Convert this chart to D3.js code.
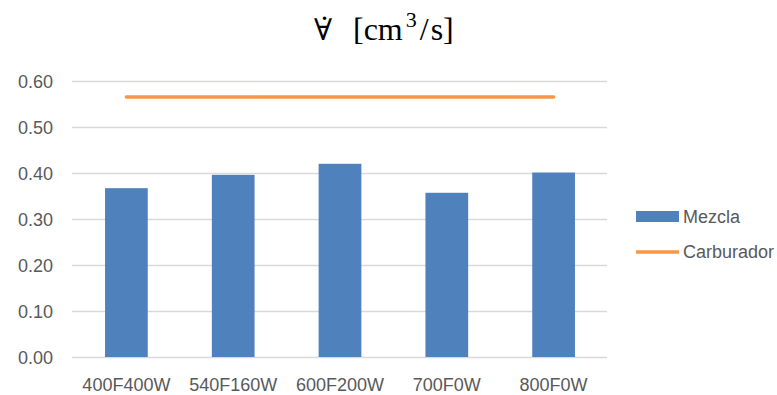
<!DOCTYPE html>
<html>
<head>
<meta charset="utf-8">
<script src="https://cdn.jsdelivr.net/npm/d3@7"></script>
<style>
  html, body { margin: 0; padding: 0; background: #fff; }
  svg { display: block; }
</style>
</head>
<body>
<svg id="chart" width="777" height="395"></svg>
<script>
// Flow rate per operating condition
const categories = ["400F400W", "540F160W", "600F200W", "700F0W", "800F0W"];
const mezclaValues = [0.367, 0.396, 0.420, 0.357, 0.401];
const carburadorValues = [0.565, 0.565, 0.565, 0.565, 0.565];
const yTicks = [0, 0.1, 0.2, 0.3, 0.4, 0.5, 0.6];
const seriesNames = ["Mezcla", "Carburador"];

const svg = d3.select("#chart");
const labelFont = "'Liberation Sans', Arial, sans-serif";
const labelColor = "#595959";

const x = d3.scaleBand().domain(categories).range([73, 607])
  .paddingInner(0.6).paddingOuter(0.3);
const y = d3.scaleLinear().domain([0, 0.6]).range([357, 81]);

// Title: volumetric flow symbol (∀ with a combining dot above) followed by the unit
const title = svg.append("text")
  .attr("fill", "#000")
  .attr("font-family", "'Liberation Serif', 'Times New Roman', serif")
  .attr("font-size", 32);
title.append("tspan")
  .attr("x", 314).attr("y", 40)
  .attr("font-family", "'DejaVu Serif', serif").attr("font-size", 30)
  .text("\u2200\u0307");
title.append("tspan").attr("x", 353).attr("y", 40).text("[cm");
title.append("tspan").attr("font-size", 22).attr("dx", 3).attr("dy", -13).text("3");
title.append("tspan").attr("dx", 3).attr("dy", 13).text("/");
title.append("tspan").attr("dx", 2).text("s]");

// Gridlines and value labels
const yAxis = d3.axisLeft(y).tickValues(yTicks)
  .tickFormat(d3.format(".2f"))
  .tickSize(-(607 - 72)).tickPadding(19);
const gy = svg.append("g").attr("transform", "translate(72,0)").call(yAxis);
gy.select(".domain").remove();
gy.selectAll(".tick line").attr("stroke", "#d9d9d9").attr("stroke-width", 1.3);
gy.selectAll(".tick text")
  .attr("font-family", labelFont).attr("font-size", 18)
  .attr("fill", labelColor).attr("dy", "0.36em");

// Bars
svg.append("g").selectAll("rect")
  .data(categories.map((c, i) => ({ c, v: mezclaValues[i] })))
  .join("rect")
  .attr("x", d => x(d.c))
  .attr("y", d => y(d.v))
  .attr("width", x.bandwidth())
  .attr("height", d => y(0) - y(d.v))
  .attr("fill", "#4f81bd");

// Line series
const line = d3.line()
  .x((d, i) => x(categories[i]) + x.bandwidth() / 2)
  .y(d => y(d));
svg.append("path")
  .datum(carburadorValues)
  .attr("d", line)
  .attr("fill", "none")
  .attr("stroke", "#f79646")
  .attr("stroke-width", 3.5)
  .attr("stroke-linecap", "round");

// Category axis labels
const xAxis = d3.axisBottom(x).tickSize(0).tickPadding(0);
const gx = svg.append("g").attr("transform", "translate(0,357)").call(xAxis);
gx.select(".domain").remove();
gx.selectAll(".tick text")
  .attr("font-family", labelFont).attr("font-size", 18)
  .attr("fill", labelColor).attr("y", 34).attr("dy", 0);

// Legend
const legend = svg.append("g");
legend.append("rect").attr("x", 636).attr("y", 211).attr("width", 43).attr("height", 11)
  .attr("fill", "#4f81bd");
legend.append("line").attr("x1", 636).attr("x2", 679).attr("y1", 252).attr("y2", 252)
  .attr("stroke", "#f79646").attr("stroke-width", 3.5);
legend.selectAll("text.leg")
  .data(seriesNames)
  .join("text")
  .attr("class", "leg")
  .attr("x", 683)
  .attr("y", (d, i) => [216.5, 252][i])
  .attr("dy", "0.36em")
  .attr("font-family", labelFont).attr("font-size", 18)
  .attr("fill", labelColor)
  .text(d => d);
</script>
</body>
</html>
